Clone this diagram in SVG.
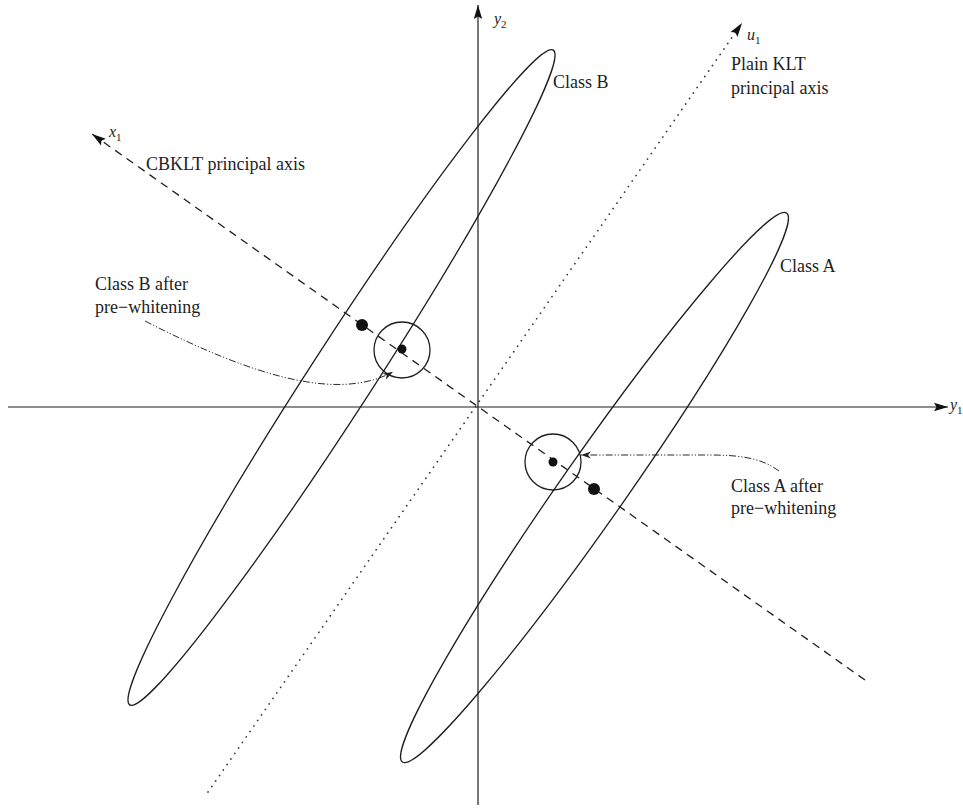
<svg xmlns="http://www.w3.org/2000/svg" width="963" height="808" viewBox="0 0 963 808">
<style>
.ln{fill:none;stroke:#1e1e1e;stroke-width:1.3}
.ax{fill:none;stroke:#1e1e1e;stroke-width:1.2}
.dash{fill:none;stroke:#1e1e1e;stroke-width:1.3;stroke-dasharray:8 6}
.dot{fill:none;stroke:#333;stroke-width:1.7;stroke-linecap:round;stroke-dasharray:0.1 6.6}
.ptr{fill:none;stroke:#2a2a2a;stroke-width:1;stroke-dasharray:7 2 1.2 2 1.2 2}
.mean{fill:#111}
.lbl{font-family:"Liberation Serif","Times New Roman",serif;font-size:18px;fill:#1e1e1e}
.var{font-family:"Liberation Serif","Times New Roman",serif;font-style:italic;font-size:16px;fill:#1e1e1e}
.sub{font-style:normal;font-size:11px}
</style>
<defs>
<marker id="bigArrow" markerUnits="userSpaceOnUse" markerWidth="16" markerHeight="10" refX="14" refY="5" orient="auto">
<path d="M0,0.8 L14,5 L0,9.2 L2.5,5 z" fill="#111"/>
</marker>
<marker id="smallArrow" markerUnits="userSpaceOnUse" markerWidth="11" markerHeight="8" refX="10" refY="4" orient="auto">
<path d="M0,0.5 L10,4 L0,7.5 L3,4 z" fill="#222"/>
</marker>
</defs>
<rect width="963" height="808" fill="#fff"/>
<g id="axes">
<line class="ax" x1="8" y1="407" x2="948" y2="407" marker-end="url(#bigArrow)"/>
<line class="ax" x1="478" y1="805" x2="478" y2="5" marker-end="url(#bigArrow)"/>
<text class="var" x="494" y="24">y<tspan class="sub" dy="4">2</tspan></text>
<text class="var" x="950" y="410">y<tspan class="sub" dy="4">1</tspan></text>
</g>
<g id="connectors">
<line class="dash" x1="865" y1="680" x2="92" y2="134" marker-end="url(#bigArrow)"/>
<line class="dot" x1="208" y1="792" x2="742" y2="23" marker-end="url(#bigArrow)"/>
<path class="ptr" d="M145,321 C260,380 340,400 393,372" marker-end="url(#smallArrow)"/>
<path class="ptr" d="M779,471 C762,458 740,455 710,455 L581,455" marker-end="url(#smallArrow)"/>
</g>
<g id="classB">
<ellipse class="ln" cx="341.5" cy="377.5" rx="389.9" ry="32" transform="rotate(-57.1 341.5 377.5)"/>
<circle class="mean" cx="362" cy="325" r="6"/>
<text class="lbl" x="553" y="88">Class B</text>
</g>
<g id="classA">
<ellipse class="ln" cx="594.5" cy="487.5" rx="335" ry="32" transform="rotate(-55 594.5 487.5)"/>
<circle class="mean" cx="594" cy="489" r="6"/>
<text class="lbl" x="780" y="272">Class A</text>
</g>
<g id="classB-whitened">
<circle class="ln" cx="402" cy="350" r="28"/>
<circle class="mean" cx="402" cy="349" r="4.5"/>
<text class="lbl" x="95" y="290">Class B after</text>
<text class="lbl" x="95" y="313">pre−whitening</text>
</g>
<g id="classA-whitened">
<circle class="ln" cx="553" cy="462" r="28"/>
<circle class="mean" cx="553" cy="462" r="4.5"/>
<text class="lbl" x="731" y="492">Class A after</text>
<text class="lbl" x="731" y="514">pre−whitening</text>
</g>
<g id="axis-labels">
<text class="var" x="109" y="137">x<tspan class="sub" dy="4">1</tspan></text>
<text class="lbl" x="146" y="170">CBKLT principal axis</text>
<text class="var" x="747" y="40">u<tspan class="sub" dy="4">1</tspan></text>
<text class="lbl" x="731" y="70">Plain KLT</text>
<text class="lbl" x="731" y="94">principal axis</text>
</g>
</svg>
